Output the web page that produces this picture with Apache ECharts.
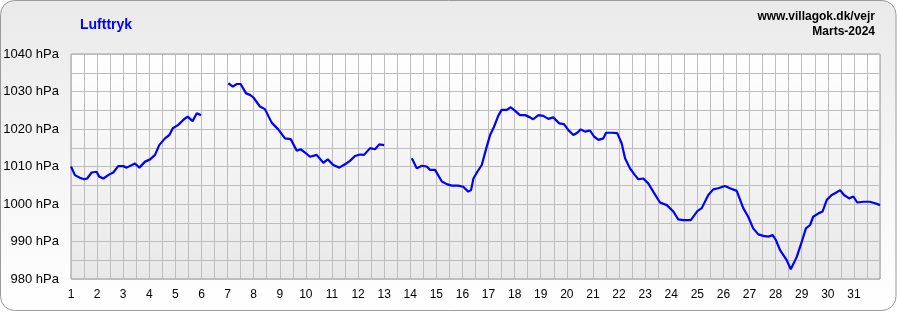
<!DOCTYPE html>
<html>
<head>
<meta charset="utf-8">
<script src="https://cdn.jsdelivr.net/npm/echarts@6/dist/echarts.min.js"></script>
<style>
html,body{margin:0;padding:0;background:#ffffff;}
#c{width:897px;height:312px;}
</style>
</head>
<body>
<div id="c"></div>
<script>
const titleText = 'Lufttryk';
const siteText = 'www.villagok.dk/vejr';
const monthText = 'Marts-2024';
const unit = ' hPa';

// Day of month (fractional) and air pressure (hPa); null = gap in data
const days = [
  1.00,1.15,1.34,1.50,1.62,1.79,1.98,2.08,2.24,2.47,2.62,2.81,3.00,3.13,3.45,3.62,3.84,4.03,4.22,4.38,4.60,4.77,4.90,5.11,5.33,5.47,5.66,5.82,5.98,
  6.50,
  7.03,7.20,7.35,7.50,7.71,7.86,7.99,8.24,8.43,8.69,8.94,9.20,9.42,9.65,9.80,9.97,10.16,10.41,10.67,10.84,11.05,11.28,11.50,11.69,11.88,12.07,12.23,12.46,12.65,12.81,13.00,
  13.50,
  14.06,14.25,14.44,14.63,14.76,14.95,15.21,15.40,15.59,15.84,16.03,16.22,16.33,16.42,16.57,16.74,16.93,17.06,17.21,17.37,17.50,17.70,17.85,18.01,18.20,18.40,18.59,18.71,18.91,19.10,19.29,19.48,19.71,19.89,20.06,20.25,20.40,20.53,20.70,20.89,21.04,21.21,21.40,21.50,21.72,21.93,22.10,22.23,22.42,22.61,22.74,22.93,23.12,23.31,23.57,23.83,24.08,24.27,24.46,24.75,25.00,25.17,25.42,25.61,25.80,26.06,26.25,26.51,26.76,26.95,27.14,27.34,27.53,27.72,27.89,28.01,28.17,28.42,28.58,28.65,28.81,29.00,29.16,29.32,29.44,29.64,29.80,29.96,30.15,30.31,30.47,30.62,30.82,30.98,31.13,31.36,31.61,31.81,32.00
];
const pressure = [
  1010.0,1007.7,1007.0,1006.6,1006.8,1008.4,1008.6,1007.3,1006.8,1007.9,1008.4,1010.1,1010.1,1009.7,1010.8,1009.7,1011.3,1011.9,1013.1,1015.7,1017.5,1018.4,1020.2,1021.1,1022.6,1023.3,1022.1,1024.2,1023.7,
  null,
  1032.2,1031.3,1032.0,1032.0,1029.5,1029.1,1028.4,1026.0,1025.3,1021.7,1019.9,1017.5,1017.3,1014.2,1014.6,1013.7,1012.6,1013.1,1011.0,1011.9,1010.4,1009.7,1010.6,1011.5,1012.8,1013.2,1013.1,1014.9,1014.6,1015.9,1015.7,
  null,
  1012.2,1009.5,1010.2,1010.0,1009.1,1009.1,1006.0,1005.3,1004.9,1004.9,1004.6,1003.3,1003.7,1006.8,1008.6,1010.4,1015.3,1018.4,1020.6,1023.5,1025.1,1025.1,1025.8,1024.9,1023.7,1023.7,1023.1,1022.6,1023.7,1023.5,1022.7,1023.1,1021.5,1021.3,1019.7,1018.4,1019.0,1019.9,1019.3,1019.6,1018.0,1017.1,1017.5,1019.0,1019.0,1018.9,1016.2,1012.2,1009.5,1007.7,1006.6,1006.8,1005.5,1003.3,1000.4,999.7,998.0,995.9,995.7,995.7,998.1,998.9,1002.4,1003.9,1004.2,1004.8,1004.2,1003.5,998.9,996.6,993.5,991.9,991.5,991.3,991.7,990.4,987.7,985.1,982.6,982.6,985.9,989.9,993.5,994.4,996.6,997.5,998.0,1001.1,1002.4,1003.0,1003.7,1002.4,1001.5,1002.0,1000.4,1000.6,1000.6,1000.2,999.7
];

const yMin = 980, yMax = 1040, yStep = 5, yLabelStep = 10;
const xMin = 1, xMax = 32, xStep = 0.5, lastDay = 31;

const seriesData = days.map((d, i) => [d, pressure[i]]);
const font = 'Arial, "Liberation Sans", sans-serif';

const chart = echarts.init(document.getElementById('c'), null, {renderer: 'canvas'});
chart.setOption({
  animation: false,
  graphic: [
    {
      type: 'rect', z: -10, silent: true,
      shape: {x: 0.5, y: 0.5, width: 895.5, height: 310, r: 14},
      style: {
        fill: new echarts.graphic.LinearGradient(0, 0, 0, 1, [
          {offset: 0, color: '#eaeaea'}, {offset: 1, color: '#ffffff'}
        ]),
        stroke: '#9a9a9a', lineWidth: 1
      }
    },
    {
      type: 'text', x: 80, y: 25, z: 10,
      style: {text: titleText, fill: '#0000ff', font: 'bold 14px ' + font, textAlign: 'left', textVerticalAlign: 'middle'}
    },
    {
      type: 'text', x: 875, y: 17, z: 10,
      style: {text: siteText, fill: '#000000', font: 'bold 12px ' + font, textAlign: 'right', textVerticalAlign: 'middle'}
    },
    {
      type: 'text', x: 875, y: 32, z: 10,
      style: {text: monthText, fill: '#000000', font: 'bold 12px ' + font, textAlign: 'right', textVerticalAlign: 'middle'}
    }
  ],
  grid: {
    left: 71, right: 17, top: 54, bottom: 33,
    show: true,
    borderColor: '#999999', borderWidth: 1,
    backgroundColor: new echarts.graphic.LinearGradient(0, 0, 0, 1, [
      {offset: 0, color: '#ffffff'}, {offset: 1, color: '#e8e8e8'}
    ])
  },
  xAxis: {
    type: 'value', min: xMin, max: xMax, interval: xStep,
    axisLine: {show: false}, axisTick: {show: false},
    splitLine: {show: true, lineStyle: {color: '#bdbdbd', width: 1}},
    axisLabel: {
      color: '#000000', fontSize: 12, fontFamily: font, margin: 10,
      showMinLabel: true, showMaxLabel: true,
      formatter: v => (Number.isInteger(v) && v <= lastDay) ? String(v) : ''
    }
  },
  yAxis: {
    type: 'value', min: yMin, max: yMax, interval: yStep,
    axisLine: {show: false}, axisTick: {show: false},
    splitLine: {show: true, lineStyle: {color: '#bdbdbd', width: 1}},
    axisLabel: {
      color: '#000000', fontSize: 13, fontFamily: font, margin: 12,
      formatter: v => (v % yLabelStep === 0) ? (v + unit) : ''
    }
  },
  series: [{
    type: 'line',
    data: seriesData,
    showSymbol: false,
    connectNulls: false,
    lineStyle: {color: '#0000ff', width: 2.2},
    itemStyle: {color: '#0000ff'},
    z: 5
  }]
});
</script>
</body>
</html>
